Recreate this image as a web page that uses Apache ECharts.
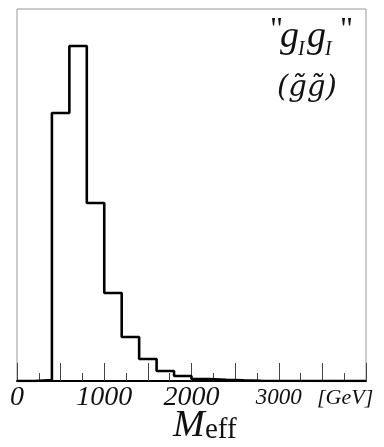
<!DOCTYPE html>
<html>
<head>
<meta charset="utf-8">
<style>html,body{margin:0;padding:0;background:#fff}#c{width:384px;height:447px}</style>
<script src="https://cdn.jsdelivr.net/npm/echarts@6/dist/echarts.min.js"></script>
</head>
<body>
<div id="c"></div>
<script>
// Histogram of M_eff (arbitrary units), bins of 200 GeV
const binEdges = [200, 400, 600, 800, 1000, 1200, 1400, 1600, 1800, 2000, 2200, 2400, 2600, 2800];
const counts   = [1, 268, 335, 178, 88, 44, 22, 10, 5, 2, 1.2, 0.7, 0.3];
const tickLabels = {0: '0', 1000: '1000', 2000: '2000', 3000: '3000'};

const pts = [[0, 0], [binEdges[0], 0]];
for (let i = 0; i < counts.length; i++) pts.push([binEdges[i], counts[i]]);
pts.push([binEdges[binEdges.length - 1], 0]);
pts.push([4000, 0]);

const serif = '"Liberation Serif", "DejaVu Serif", serif';
const chart = echarts.init(document.getElementById('c'));
chart.setOption({
  animation: false,
  grid: {left: 17, right: 18, top: 9, bottom: 66, show: true, borderColor: '#999', borderWidth: 1},
  xAxis: {
    type: 'value', min: 0, max: 4000, interval: 500,
    axisLine: {show: true, onZero: false, lineStyle: {color: '#000', width: 2}},
    axisTick: {show: true, inside: true, length: 18, lineStyle: {color: '#444', width: 1}},
    minorTick: {show: true, splitNumber: 2, length: 8, lineStyle: {color: '#444', width: 1}},
    splitLine: {show: false},
    axisLabel: {
      margin: 5,
      formatter: v => tickLabels[v] !== undefined ? (v === 3000 ? '{s|' + tickLabels[v] + '}' : '{b|' + tickLabels[v] + '}') : '',
      rich: {
        b: {fontFamily: serif, fontStyle: 'italic', fontSize: 28, color: '#111', lineHeight: 24},
        s: {fontFamily: serif, fontStyle: 'italic', fontSize: 23, color: '#111', lineHeight: 24}
      }
    }
  },
  yAxis: {type: 'value', min: 0, max: 372, show: false},
  series: [{
    type: 'line', step: 'end', data: pts, symbol: 'none', z: 10,
    lineStyle: {color: '#000', width: 2.6}
  }],
  graphic: [
    {type: 'text', left: 270, top: 15, style: {text: '"', font: '32px ' + serif, fill: '#111'}},
    {type: 'text', left: 280, top: 18, style: {text: 'g', font: 'italic 38px ' + serif, fill: '#111'}},
    {type: 'text', left: 298, top: 40, style: {text: 'I', font: 'italic 20px ' + serif, fill: '#111'}},
    {type: 'text', left: 307, top: 18, style: {text: 'g', font: 'italic 38px ' + serif, fill: '#111'}},
    {type: 'text', left: 325, top: 40, style: {text: 'I', font: 'italic 20px ' + serif, fill: '#111'}},
    {type: 'text', left: 340, top: 15, style: {text: '"', font: '32px ' + serif, fill: '#111'}},
    {type: 'text', left: 277, top: 74, style: {text: '(g\u0303g\u0303)', font: 'italic 29px "DejaVu Serif", serif', fill: '#111'}},
    {type: 'text', left: 317, top: 387, style: {text: '[GeV]', font: 'italic 22px ' + serif, fill: '#111'}},
    {type: 'text', left: 173, top: 407, style: {text: 'M', font: 'italic 38px ' + serif, fill: '#111'}},
    {type: 'text', left: 205, top: 416, style: {text: 'eff', font: '29px ' + serif, fill: '#111'}}
  ]
});
</script>
</body>
</html>
